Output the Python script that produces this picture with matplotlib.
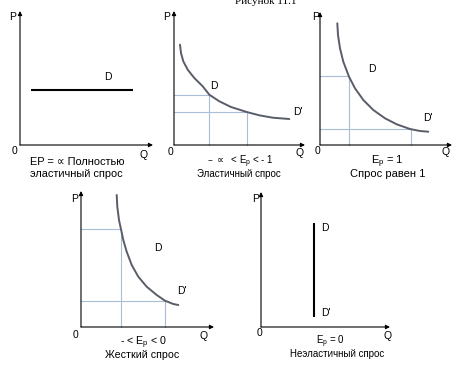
import matplotlib
matplotlib.use("Agg")
import matplotlib.pyplot as plt

W, H = 472, 367
plt.rcParams['font.family'] = ['Liberation Sans', 'DejaVu Sans']

# ---- data (P, Q in arbitrary units) ----
p1_Q = [1.1, 11.3]
p1_P = [5.5, 5.5]

p2_Q = [0.6, 0.7, 0.93, 1.37, 2.03, 2.87, 3.53, 4.53, 5.7, 7.27, 8.53, 9.87, 11.53]
p2_P = [10.03, 9.2, 8.37, 7.53, 6.7, 5.87, 5.03, 4.37, 3.8, 3.3, 2.97, 2.73, 2.6]
p2_gQ = [3.53, 7.3]
p2_gP = [4.97, 3.3]

p3_Q = [1.73, 1.8, 2.0, 2.33, 2.9, 3.5, 4.33, 5.33, 6.5, 7.67, 9.0, 10.0, 10.83]
p3_P = [12.17, 11.0, 9.67, 8.33, 6.83, 5.67, 4.5, 3.5, 2.67, 2.07, 1.6, 1.4, 1.33]
p3_gQ = [2.9, 9.1]
p3_gP = [6.9, 1.55]

p4_Q = [3.57, 3.63, 3.8, 4.0, 4.23, 4.57, 5.07, 5.73, 6.57, 7.57, 8.4, 9.23, 9.73]
p4_P = [13.2, 12.03, 10.7, 9.77, 8.7, 7.53, 6.2, 5.03, 4.03, 3.2, 2.63, 2.3, 2.2]
p4_gQ = [4.0, 8.4]
p4_gP = [9.8, 2.6]

p5_Q = [5.3, 5.3]
p5_P = [1.0, 10.4]

title = "Рисунок 11.1"
captions = [
    ("EP = ∝ Полностью", "эластичный спрос"),
    ("– $\\propto$  < E$_\\mathregular{p}$ < - 1", "Эластичный спрос"),
    ("E$_\\mathregular{p}$ = 1", "Спрос равен 1"),
    ("- < E$_\\mathregular{p}$ < 0", "Жесткий спрос"),
    ("E$_\\mathregular{p}$ = 0", "Неэластичный спрос"),
]

CURVE = "#585d68"
GUIDE = "#a9bdd6"

fig = plt.figure(figsize=(W / 100, H / 100), dpi=100)
fig.patch.set_facecolor("white")


def ftext(x, y, s, **kw):
    return fig.text(x / W, 1 - y / H, s, **kw)


def make_axes(ox, oy, xt, yt):
    ax = fig.add_axes([ox / W, 1 - oy / H, (xt - ox) / W, (oy - yt) / H])
    ax.set_xlim(0, (xt - ox) / 10)
    ax.set_ylim(0, (oy - yt) / 10)
    ax.axis("off")
    ap = dict(arrowstyle="-|>", lw=0.8, color="black", mutation_scale=6,
              shrinkA=0, shrinkB=0)
    ax.annotate("", xy=(1, 0), xytext=(0, 0), xycoords="axes fraction",
                arrowprops=ap, annotation_clip=False)
    ax.annotate("", xy=(0, 1), xytext=(0, 0), xycoords="axes fraction",
                arrowprops=ap, annotation_clip=False)
    return ax


def guides(ax, gq, gp):
    for q, p in zip(gq, gp):
        ax.plot([0, q], [p, p], color=GUIDE, lw=0.8, clip_on=False)
        ax.plot([q, q], [0, p], color=GUIDE, lw=0.8, clip_on=False)


def curve(ax, q, p):
    ax.plot(q, p, color=CURVE, lw=1.4, solid_joinstyle="round",
            solid_capstyle="round", clip_on=False)


LBL = dict(fontsize=7.5, ha="center", va="center")

# panel 1
ax1 = make_axes(20, 145, 153, 11)
ax1.plot(p1_Q, p1_P, color="black", lw=1.5, solid_capstyle="butt")
ftext(12.5, 17, "P", **LBL); ftext(15, 150.5, "0", **LBL)
ftext(144, 155, "Q", **LBL); ftext(107.5, 76.5, "D", **LBL)

# panel 2
ax2 = make_axes(174, 145, 305, 11)
guides(ax2, p2_gQ, p2_gP)
curve(ax2, p2_Q, p2_P)
ftext(167, 17, "P", **LBL); ftext(170.5, 151.5, "0", **LBL)
ftext(300, 152.5, "Q", **LBL); ftext(213.5, 86, "D", **LBL)
ftext(298, 112.5, "D'", **LBL)

# panel 3
ax3 = make_axes(320, 145, 452, 12)
guides(ax3, p3_gQ, p3_gP)
curve(ax3, p3_Q, p3_P)
ftext(315.5, 17, "P", **LBL); ftext(317.5, 151, "0", **LBL)
ftext(446, 152, "Q", **LBL); ftext(372, 69.5, "D", **LBL)
ftext(427.5, 118, "D'", **LBL)

# panel 4
ax4 = make_axes(81, 327, 214, 191)
guides(ax4, p4_gQ, p4_gP)
curve(ax4, p4_Q, p4_P)
ftext(74.5, 198.5, "P", **LBL); ftext(75.5, 335, "0", **LBL)
ftext(204, 336, "Q", **LBL); ftext(158, 248, "D", **LBL)
ftext(181.5, 290.5, "D'", **LBL)

# panel 5
ax5 = make_axes(261, 327, 390, 192)
ax5.plot(p5_Q, p5_P, color="black", lw=1.5, solid_capstyle="butt")
ftext(255.5, 199, "P", **LBL); ftext(259.5, 333.5, "0", **LBL)
ftext(387.5, 336, "Q", **LBL); ftext(324.5, 228, "D", **LBL)
ftext(325.5, 313.5, "D'", **LBL)

# captions: (x1, base1, x2, base2, target width of line 2)
cap_pos = [
    (77, 165.5, 76.3, 176.5, 92.7),
    (240.8, 164.5, 239, 176.5, 78),
    (387.8, 164, 387.5, 176.5, 75),
    (143.3, 345, 141.7, 357.5, 73.3),
    (330, 344.5, 337.2, 356.7, 79),
]
renderer = fig.canvas.get_renderer()
for (l1, l2), (x1, b1, x2, b2, wt) in zip(captions, cap_pos):
    t2 = ftext(x2, b2, l2, fontsize=7, ha="center", va="baseline")
    w = t2.get_window_extent(renderer).width
    fs = max(7 * wt / w, 7.0)
    t2.set_fontsize(fs)
    ftext(x1, b1, l1, fontsize=fs, ha="center", va="baseline")

ftext(266, 4, title, fontsize=8, ha="center", va="baseline",
      family=["Liberation Serif", "DejaVu Serif"])

fig.savefig("out.png", dpi=100, facecolor="white")
